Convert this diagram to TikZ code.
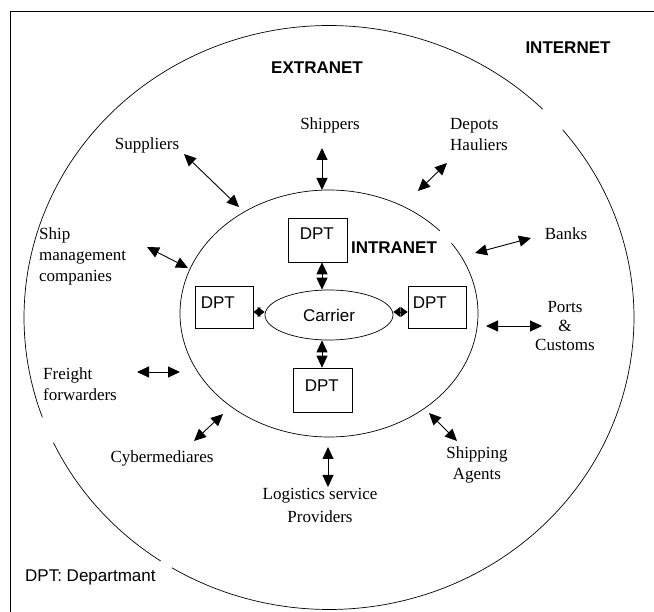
\documentclass[tikz,border=0pt]{standalone}
\usepackage{fontspec}
\setmainfont{Liberation Serif}
\setsansfont{Liberation Sans}
\usetikzlibrary{shapes.geometric,arrows.meta}
\begin{document}
\begin{tikzpicture}[x=1pt,y=-1pt,
  ring/.style={line width=0.7pt},
  lbl/.style={font=\fontsize{17}{21}\selectfont, inner sep=0pt, align=center},
  lbll/.style={lbl, align=left},
  head/.style={font=\sffamily\bfseries\fontsize{17}{21}\selectfont, inner sep=0pt},
  dbl/.style={line width=0.9pt, {Triangle[length=12pt,width=11pt]}-{Triangle[length=12pt,width=11pt]}},
  dblsmall/.style={line width=0.9pt, {Triangle[length=7pt,width=10pt]}-{Triangle[length=7pt,width=10pt]}},
  dptbox/.style={draw, line width=0.7pt, rectangle, inner sep=0pt},
  dptlbl/.style={anchor=north west, inner sep=0pt, font=\sffamily\fontsize{17}{20}\selectfont},
]
\useasboundingbox (0,0) rectangle (654,612);
% frame
\draw[line width=0.9pt] (10,612) -- (10,11) -- (654,11);
% outer ring (INTERNET / EXTRANET boundary)
\draw[ring] plot[domain=45.5:200, samples=150] ({329+305*cos(\x)},{317.5-292*sin(\x)});
\draw[ring] plot[domain=205.4:236.5, samples=40] ({329+305*cos(\x)},{317.5-292*sin(\x)});
\draw[ring] plot[domain=239:400, samples=150] ({329+305*cos(\x)},{317.5-292*sin(\x)});
% intranet ring
\draw[ring] plot[domain=42:394.7, samples=250] ({329+149*cos(\x)},{313.5-123.5*sin(\x)});

% titles
\node[head] (internet) at (568,48) {INTERNET};
\node[head] (extranet) at (317,68) {EXTRANET};
\node[head] (intranet) at (394,248) {INTRANET};

% carrier and departments
\node[draw, ellipse, line width=0.7pt, minimum width=128pt, minimum height=50pt, inner sep=0pt,
      font=\sffamily\fontsize{17}{20}\selectfont] (carrier) at (329,315) {Carrier};
\node[dptbox, minimum width=59pt, minimum height=44pt,
      label={[dptlbl, xshift=12pt, yshift=-10pt]north west:DPT}] (dptT) at (317.5,240) {};
\node[dptbox, minimum width=58pt, minimum height=42pt,
      label={[dptlbl, xshift=6pt, yshift=-11pt]north west:DPT}] (dptL) at (224,307) {};
\node[dptbox, minimum width=58pt, minimum height=42pt,
      label={[dptlbl, xshift=5pt, yshift=-11pt]north west:DPT}] (dptR) at (437,307) {};
\node[dptbox, minimum width=59pt, minimum height=44pt,
      label={[dptlbl, xshift=12pt, yshift=-12pt]north west:DPT}] (dptB) at (322.5,390) {};

\coordinate (ax) at (322,0);
\coordinate (ay) at (0,312);
\draw[dbl] (dptT.south -| ax) -- (carrier.north -| ax);
\draw[dbl] (carrier.south -| ax) -- (dptB.north -| ax);
\draw[dblsmall] (dptL.east |- ay) -- (carrier.west |- ay);
\draw[dblsmall] (carrier.east |- ay) -- (dptR.west |- ay);

% partners
\node[lbl] (shippers) at (330,125) {Shippers};
\node[lbll, anchor=west] (depots) at (450,135) {Depots\\Hauliers};
\node[lbl] (suppliers) at (147,145) {Suppliers};
\node[lbll, anchor=west] (shipmgmt) at (39,256) {Ship\\management\\companies};
\node[lbl] (banks) at (566,234) {Banks};
\node[lbl, font=\fontsize{17}{19}\selectfont] (ports) at (565,326) {Ports\\\&\\Customs};
\node[lbll, anchor=west] (freight) at (43,384.5) {Freight\\forwarders};
\node[lbl] (cyber) at (162,458) {Cybermediares};
\node[lbl, font=\fontsize{17}{23}\selectfont] (logistics) at (320,505.5) {Logistics service\\Providers};
\node[lbl] (shipping) at (477,464.5) {Shipping\\Agents};
\node[inner sep=0pt, anchor=west, font=\sffamily\fontsize{17}{20}\selectfont] (legend) at (25,577) {DPT: Departmant};

% arrow end points
\coordinate (sup1) at (184,154);  \coordinate (sup2) at (239,207);
\coordinate (shp1) at (322,148);  \coordinate (shp2) at (322,190);
\coordinate (dep1) at (447,163);  \coordinate (dep2) at (418,191);
\coordinate (smc1) at (147,247);  \coordinate (smc2) at (188,268);
\coordinate (bnk1) at (531,238);  \coordinate (bnk2) at (475,253);
\coordinate (prt1) at (542,326);  \coordinate (prt2) at (486,326);
\coordinate (frt1) at (137,372);  \coordinate (frt2) at (180,372);
\coordinate (cyb1) at (194,441);  \coordinate (cyb2) at (223,414);
\coordinate (log1) at (328,447);  \coordinate (log2) at (328,487);
\coordinate (sha1) at (457,441);  \coordinate (sha2) at (429,413);

\draw[dbl] (sup1) -- (sup2);
\draw[dbl] (shp1) -- (shp2);
\draw[dbl] (dep1) -- (dep2);
\draw[dbl] (smc1) -- (smc2);
\draw[dbl] (bnk1) -- (bnk2);
\draw[dbl] (prt1) -- (prt2);
\draw[dbl] (frt1) -- (frt2);
\draw[dbl] (cyb1) -- (cyb2);
\draw[dbl] (log1) -- (log2);
\draw[dbl] (sha1) -- (sha2);
\end{tikzpicture}
\end{document}
